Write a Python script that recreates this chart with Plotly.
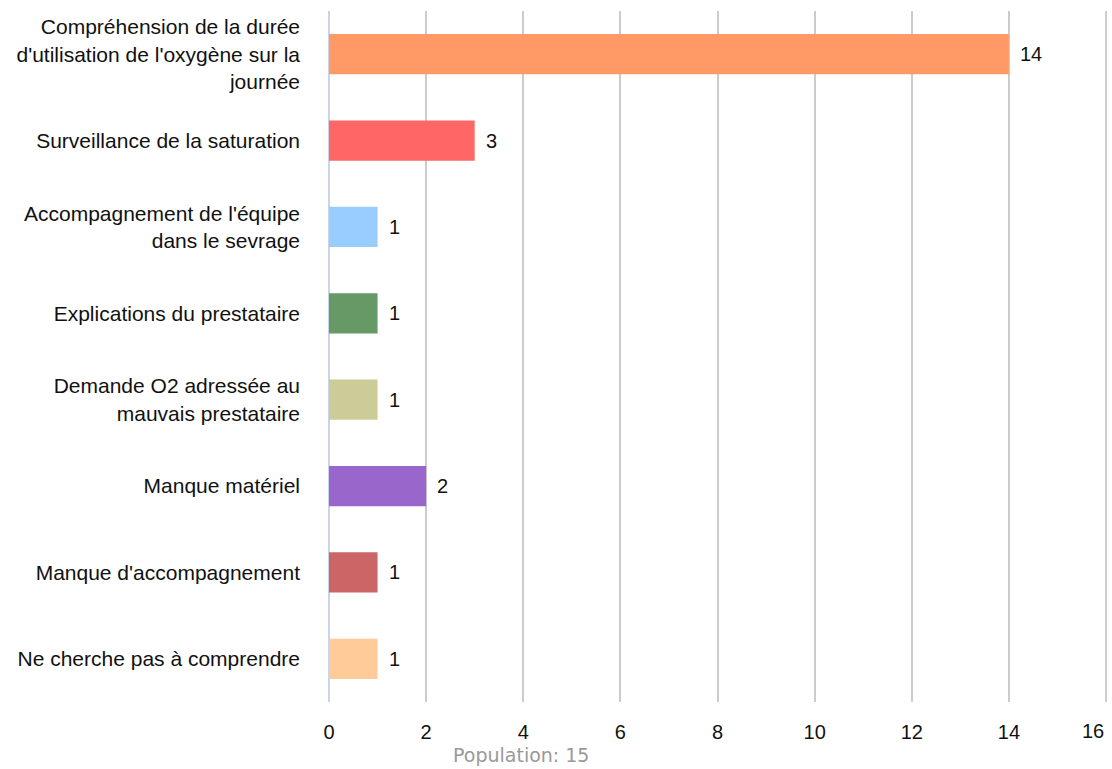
import plotly.graph_objects as go

categories = [
    "Compréhension de la durée<br>d'utilisation de l'oxygène sur la<br>journée",
    "Surveillance de la saturation",
    "Accompagnement de l'équipe<br>dans le sevrage",
    "Explications du prestataire",
    "Demande O2 adressée au<br>mauvais prestataire",
    "Manque matériel",
    "Manque d'accompagnement",
    "Ne cherche pas à comprendre",
]
values = [14, 3, 1, 1, 1, 2, 1, 1]
colors = ["#FF9966", "#FF6666", "#99CCFF", "#669966", "#CCCC99", "#9966CC", "#CC6666", "#FFCC99"]
x_ticks = [0, 2, 4, 6, 8, 10, 12, 14, 16]
footer = "Population: 15"
x_max = 16

fig = go.Figure()
fig.add_trace(go.Bar(
    y=categories, x=values, orientation="h",
    marker=dict(color=colors, line=dict(width=0)),
    width=0.465,
    hoverinfo="skip",
))

for c, v in zip(categories, values):
    fig.add_annotation(x=v, y=c, text=str(v), showarrow=False,
                       xanchor="left", xshift=9,
                       font=dict(family="Liberation Sans, Arial", size=20, color="#111111"))

# last tick label, kept inside the page like the reference
fig.add_annotation(x=x_ticks[-1], xref="x", yref="paper", y=0, yshift=-16,
                   text=str(x_ticks[-1]), showarrow=False, xanchor="right", yanchor="top",
                   font=dict(family="Liberation Sans, Arial", size=20, color="#111111"))

fig.add_annotation(xref="paper", yref="paper", x=(520 - 329) / 776, y=-0.077,
                   text=footer, showarrow=False, xanchor="center", yanchor="middle",
                   font=dict(family="DejaVu Sans, Verdana", size=19, color="#999999"))

fig.update_layout(
    width=1112, height=769,
    margin=dict(l=329, r=4, t=11, b=67),
    paper_bgcolor="white", plot_bgcolor="white",
    showlegend=False,
    font=dict(family="Liberation Sans, Arial", size=20, color="#111111"),
    xaxis=dict(range=[0, x_max + 0.04], tickvals=x_ticks[:-1], showgrid=True, gridcolor="#CCCCCC", gridwidth=2,
               zeroline=True, zerolinecolor="#C8D4EA", zerolinewidth=2,
               showline=False, ticks="", ticklabelstandoff=16,
               tickfont=dict(size=20, color="#111111"), fixedrange=True),
    yaxis=dict(autorange="reversed", showgrid=False, showline=False, ticks="",
               ticklabelstandoff=28, tickfont=dict(size=21, color="#111111"), fixedrange=True),
    shapes=[dict(type="line", xref="x", yref="paper", x0=x_max, x1=x_max, y0=0, y1=1,
                 line=dict(color="#CCCCCC", width=2), layer="below")],
)

fig.write_html("out.html", config={"displayModeBar": False},
               post_script="document.body.style.margin='0';")
